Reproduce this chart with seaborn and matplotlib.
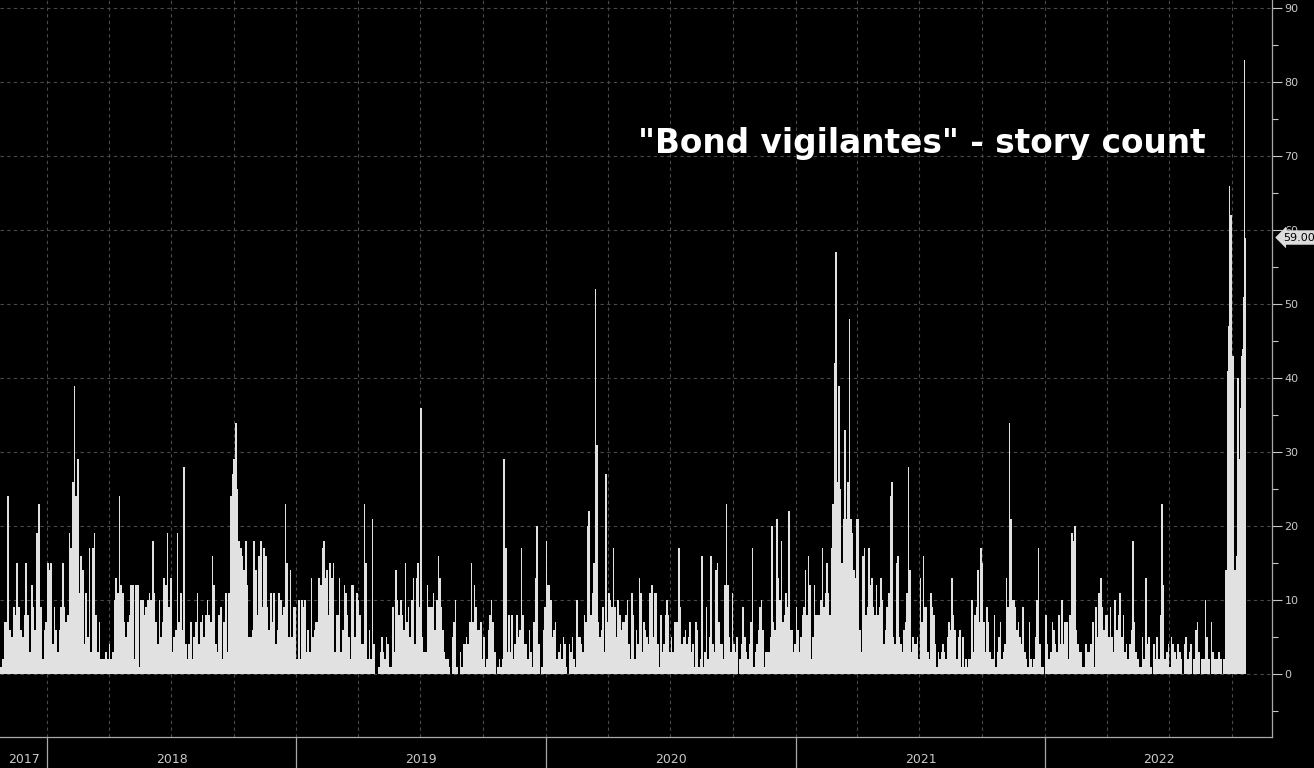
import numpy as np
import pandas as pd
import seaborn as sns
import matplotlib
matplotlib.use('Agg')
import matplotlib.pyplot as plt
import matplotlib.dates as mdates
import matplotlib.transforms as mtransforms
from matplotlib.ticker import MultipleLocator

# story counts, each list spread evenly over its date span
counts_2017 = [1, 2, 7, 7, 24, 6, 5, 9, 8, 15, 9, 6, 5, 8, 15, 8, 3, 12, 9, 6, 19, 23, 9, 2, 6, 7]

counts_2018 = [15, 14, 15, 4, 9, 6, 3, 6, 9, 15, 9, 7, 8, 19, 17, 26, 39, 24, 29, 11, 16, 14, 4, 11, 5, 17, 3, 17, 19, 8, 3, 7, 2, 2,
               2, 3, 2, 4, 2, 3, 10, 13, 11, 24, 12, 11, 7, 5, 7, 8, 12, 12, 2, 12, 12, 1, 10, 10, 8, 9, 10, 11, 10, 18, 11, 7, 4, 10, 5, 7,
               13, 12, 19, 9, 13, 3, 5, 6, 19, 7, 11, 6, 28, 4, 2, 4, 7, 2, 5, 7, 11, 4, 7, 8, 5, 8,
               10, 8, 7, 16, 12, 4, 3, 8, 9, 2, 7, 11, 3, 11, 24, 27, 29, 34, 25, 18, 17, 16, 14, 18, 12, 5, 5, 6, 18, 14,
               8, 16, 18, 9, 17, 16, 9, 6, 11, 7, 11, 4, 6, 11, 10, 8, 9, 23, 15, 5, 14, 5, 9, 9]

counts_2019 = [2, 10, 2, 10, 9, 10, 3, 6, 3, 13, 5,
               6, 7, 7, 13, 12, 17, 18, 13, 14, 8, 15, 13, 15, 3, 8, 8, 13, 3, 6, 12, 11, 8, 5, 2, 12, 12, 5, 11, 10, 8, 4, 4,
               23, 15, 2, 6, 2, 21, 4, 0, 0, 1, 3, 5, 3, 2, 5, 4, 1, 1, 9, 3, 14, 10, 8, 10, 8, 6, 15, 7, 9, 5, 10, 13, 4, 13, 15, 9,
               36, 5, 3, 3, 12, 9, 9, 9, 11, 6, 10, 16, 13, 9, 6, 3, 2, 2, 1, 0, 5, 7, 10, 1, 0, 3, 1, 4, 4, 5, 4, 7, 15, 7, 12,
               9, 6, 6, 7, 2, 5, 1, 2, 6, 8, 10, 7, 3, 0, 1, 2, 1, 2, 29, 17, 3, 8, 3, 8, 2, 4, 8, 5, 6, 17, 8, 4,
               4, 2, 6, 3, 1, 7, 13, 20, 4, 0, 1, 6, 9]

counts_2020 = [18, 12, 12, 10, 5, 6, 7, 2, 3, 4, 2, 5, 4, 1, 0, 4, 3, 5, 2, 1, 10, 5, 5, 4, 3, 8, 7, 20, 22, 8, 11, 15, 52, 31,
               7, 5, 6, 9, 3, 27, 7, 11, 10, 9, 17, 9, 5, 10, 8, 6, 7, 7, 8,
               10, 4, 2, 11, 8, 2, 6, 4, 13, 11, 3, 7, 6, 5, 4, 11, 12, 5, 11, 11, 4, 1, 8, 3, 4, 8, 10, 8, 3, 5, 3, 7, 7, 7,
               17, 9, 4, 5, 6, 4, 5, 7, 3, 4, 1, 7, 6, 1, 2, 16, 1, 3, 9, 2, 5, 16, 4, 3, 14, 15, 7, 4, 4, 2, 12, 23, 12, 5,
               3, 11, 4, 3, 5, 0, 2, 4, 9, 5, 3, 2, 4, 7, 17, 1, 3, 4, 6, 9, 10, 6, 1, 3, 3, 3, 5, 20, 7, 6, 21, 13, 10, 18,
               7, 8, 11, 9, 22, 6, 6, 3, 4]

counts_2021 = [9, 6, 3, 5, 8, 9, 14, 8, 16, 12, 2, 5, 12, 8, 8, 8, 10, 17, 9, 11, 15, 11, 8, 17, 23, 42, 57, 26, 39, 25,
               15, 21, 33, 21, 26, 48, 21, 19, 14, 13, 21, 21, 6, 3, 16, 17, 8, 9, 17, 12, 13, 9, 8, 12, 8, 9, 13, 10, 4, 6,
               9, 11, 24, 26, 5, 4, 15, 16, 5, 4, 3, 6, 7, 11, 28, 14, 3, 5, 4, 4, 5, 2, 13, 7, 16, 9, 9, 3, 2, 11, 9, 8, 4, 1,
               3, 2, 3, 4, 3, 2, 5,
               7, 6, 13, 8, 6, 2, 5, 6, 1, 5, 1, 2, 1, 2, 2, 10, 3, 8, 9, 14, 7, 17, 15, 7, 3, 9, 7, 3, 2, 2, 8, 1, 3, 5, 7,
               2, 3, 4, 13, 9, 34, 21, 10, 10, 9, 6, 7, 5, 4, 9, 3, 2, 1, 7, 2, 1, 2, 5, 10, 17, 4, 1, 1, 0]

counts_2022 = [8, 4,
               2, 3, 7, 6, 4, 3, 8, 4, 10, 4, 7, 7, 2, 8, 19, 18, 20, 6, 4, 3, 3, 1, 1, 4, 3, 3, 4, 7, 1, 9, 5, 11, 13, 9,
               6, 8, 8, 5, 9, 5, 3, 10, 6, 8, 11, 5, 8, 3, 4, 2, 4, 6, 18, 7, 3, 2, 1, 1, 5, 2, 13, 4, 5, 1, 0, 4, 2,
               5, 2, 8, 23, 12, 2, 3, 4, 1, 5, 4, 3, 2, 4, 3, 2, 0, 4, 5, 2, 3, 4, 0, 2, 6, 7, 3, 0, 2, 2, 10, 5, 2, 0]

counts_autumn_2022 = [7, 3, 3, 2, 2, 2, 2, 3, 3, 2, 2, 0, 2, 2, 14, 14, 41, 47, 66, 62, 62, 43, 43, 14, 14, 16, 40, 40,
                      29, 36, 43, 44, 51, 83, 59]

segments = [
    ('2017-10-24', '2018-01-01', counts_2017),
    ('2018-01-01', '2019-01-01', counts_2018),
    ('2019-01-01', '2020-01-01', counts_2019),
    ('2020-01-01', '2021-01-01', counts_2020),
    ('2021-01-01', '2022-01-01', counts_2021),
    ('2022-01-01', '2022-09-01', counts_2022),
    ('2022-09-01', '2022-10-22', counts_autumn_2022),
]
last_value = 59.00
title = '"Bond vigilantes" - story count'
years = ['2017', '2018', '2019', '2020', '2021', '2022']

edges, centers, values = [], [], []
for start, end, vals in segments:
    e = np.linspace(mdates.date2num(pd.Timestamp(start)), mdates.date2num(pd.Timestamp(end)), len(vals) + 1)
    edges.extend(e)
    centers.extend((e[:-1] + e[1:]) / 2)
    values.extend(vals)
edges = [float(v) for v in np.unique(np.round(edges, 6))]
df = pd.DataFrame({'date': centers, 'count': values})

sns.set_style('dark')
plt.rcParams['font.family'] = ['DejaVu Sans']
bg = '#000000'
fg = '#c8c8c8'

fig = plt.figure(figsize=(13.14, 7.68), dpi=100, facecolor=bg)
ax = fig.add_axes([0, 0.0404, 0.968, 0.9596])
ax.set_facecolor(bg)

sns.histplot(data=df, x='date', weights='count', bins=edges, color='#e1e1e1', alpha=1,
             linewidth=0, edgecolor='none', element='bars', ax=ax)

x0 = mdates.date2num(pd.Timestamp('2017-10-24'))
x1 = mdates.date2num(pd.Timestamp('2022-11-29'))
ax.set_xlim(x0, x1)
ax.set_ylim(-8.5, 91.1)
ax.set_xlabel('')
ax.set_ylabel('')

# grid
ax.yaxis.set_major_locator(MultipleLocator(10))
ax.yaxis.set_minor_locator(MultipleLocator(5))
ax.xaxis.set_major_locator(mdates.MonthLocator(bymonth=[1, 4, 7, 10]))
ax.xaxis.set_minor_locator(mdates.MonthLocator())
ax.grid(True, which='major', color='#4a4a4a', linestyle=(0, (3, 3)), linewidth=0.8)
ax.set_axisbelow(True)
ax.set_yticks([v for v in range(0, 91, 10)])

ax.yaxis.tick_right()
ax.tick_params(axis='y', which='major', colors=fg, labelcolor=fg, length=7, width=0.8, labelsize=8, pad=2, direction='out')
ax.tick_params(axis='y', which='minor', colors=fg, length=4, width=0.8, direction='out')
ax.tick_params(axis='x', which='both', colors=fg, length=5, width=0.8, labelbottom=False, direction='out')

for s in ['left', 'top']:
    ax.spines[s].set_visible(False)
for s in ['right', 'bottom']:
    ax.spines[s].set_color('#a8a8a8')
    ax.spines[s].set_linewidth(0.9)

# year separators and labels below the axis
for i, y in enumerate(years):
    ys = mdates.date2num(pd.Timestamp(f'{y}-01-01'))
    ye = mdates.date2num(pd.Timestamp(f'{int(y) + 1}-01-01'))
    if ys > x0:
        ax.axvline(ys, ymin=-0.0404 / 0.9596, ymax=0, color='#a8a8a8', linewidth=0.9, clip_on=False)
    mid = (max(ys, x0) + min(ye, x1)) / 2
    ax.text(mid, -0.031, y, transform=ax.get_xaxis_transform(), ha='center', va='center',
            color=fg, fontsize=9, clip_on=False)

# last value tag (sits over the 60 label, as in the terminal chart)
trans = mtransforms.blended_transform_factory(ax.transAxes, ax.transData)
ax.annotate(f'{last_value:.2f}', xy=(1.0, last_value), xycoords=trans, xytext=(8, 0),
            textcoords='offset points', ha='left', va='center', fontsize=8, color='#000000',
            bbox=dict(boxstyle='larrow,pad=0.2', fc='#dcdcdc', ec='none'), annotation_clip=False,
            zorder=10)

fig.text(922 / 1314, 1 - 143 / 768, title, ha='center', va='center', color='white',
         fontsize=23.6, fontweight='bold')

fig.savefig('out.png', dpi=100, facecolor=bg)
